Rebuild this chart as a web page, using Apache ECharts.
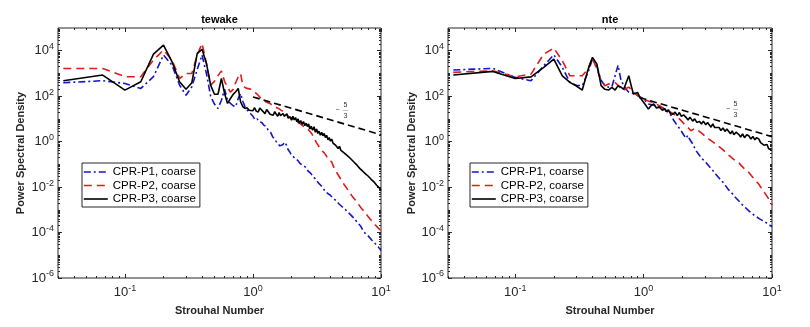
<!DOCTYPE html>
<html><head><meta charset="utf-8">
<script src="https://cdn.jsdelivr.net/npm/echarts@6/dist/echarts.min.js"></script>
<style>html,body{margin:0;padding:0;background:#fff}#c{width:810px;height:327px}</style>
</head><body><div id="c"></div>
<script>
// ---------- data ----------
const panelTitles = ['tewake', 'nte'];
const seriesNames = ['CPR-P1, coarse', 'CPR-P2, coarse', 'CPR-P3, coarse'];
const xAxisTitle = 'Strouhal Number';
const yAxisTitle = 'Power Spectral Density';
const xTickValues = [0.1, 1, 10];
const yTickValues = [1e-6, 1e-4, 1e-2, 1, 1e2, 1e4];
const slopeLabel = ['\u2212', '5', '3'];

const tewakeP1 = [[0.033,390],[0.067,480],[0.1,363],[0.133,219],[0.167,720],[0.2,6450],[0.233,2340],[0.267,308],[0.3,110],[0.333,260],[0.367,1500],[0.4,6450],[0.433,1000],[0.467,100],[0.5,45],[0.533,29],[0.567,66],[0.6,200],[0.633,70],[0.667,48],[0.7,38],[0.733,34],[0.767,80],[0.8,132],[0.833,60],[0.867,34],[0.9,25],[0.933,20],[0.967,16],[1.0,13],[1.04,9],[1.08,10],[1.12,7.5],[1.17,7],[1.22,5.2],[1.27,4.6],[1.32,3.0],[1.37,2.6],[1.42,1.7],[1.47,1.4],[1.52,1.0],[1.57,0.8],[1.62,0.65],[1.67,0.6],[1.72,0.75],[1.76,0.95],[1.79,1.0],[1.83,0.7],[1.88,0.45],[1.94,0.35],[2.0,0.25],[2.08,0.21],[2.16,0.17],[2.24,0.15],[2.33,0.11],[2.45,0.09],[2.57,0.076],[2.7,0.05],[2.83,0.04],[2.96,0.028],[3.1,0.022],[3.25,0.015],[3.4,0.0118],[3.55,0.0085],[3.7,0.006],[3.85,0.0052],[4.0,0.0045],[4.15,0.0036],[4.3,0.003],[4.5,0.0024],[4.7,0.0018],[4.95,0.0014],[5.2,0.0011],[5.5,0.0008],[5.8,0.0006],[6.27,0.00038],[6.6,0.00026],[6.9,0.0002],[7.2,0.00013],[7.5,0.000095],[8.0,0.000068],[8.5,0.000046],[9.0,0.000033],[9.5,0.000024],[10.0,0.000016]];
const tewakeP2 = [[0.033,1660],[0.067,1660],[0.1,720],[0.133,720],[0.167,3900],[0.2,10700],[0.233,3900],[0.267,600],[0.3,1000],[0.333,1000],[0.367,6450],[0.4,21000],[0.433,2770],[0.467,308],[0.5,450],[0.533,800],[0.567,1300],[0.6,450],[0.633,250],[0.667,150],[0.7,200],[0.733,400],[0.767,700],[0.8,1000],[0.833,300],[0.867,240],[0.9,220],[0.933,210],[0.967,195],[1.0,185],[1.05,140],[1.1,110],[1.15,80],[1.2,64],[1.24,57],[1.3,52],[1.36,48],[1.41,40],[1.46,38],[1.52,32],[1.58,29],[1.63,25],[1.68,23],[1.74,19],[1.79,17],[1.85,15],[1.9,13],[1.95,11.5],[2.0,10.4],[2.08,9],[2.15,8],[2.25,7],[2.34,6.2],[2.42,5.2],[2.5,4.6],[2.6,3.9],[2.73,3.2],[2.82,2.6],[2.9,2.1],[2.98,1.5],[3.05,1.2],[3.13,0.9],[3.2,0.8],[3.32,0.55],[3.44,0.41],[3.5,0.45],[3.6,0.32],[3.7,0.26],[3.8,0.2],[3.95,0.16],[4.12,0.127],[4.3,0.07],[4.5,0.045],[4.7,0.03],[4.93,0.0196],[5.15,0.013],[5.4,0.009],[5.65,0.006],[5.9,0.0043],[6.2,0.003],[6.5,0.0022],[6.8,0.0015],[7.08,0.0011],[7.35,0.0009],[7.6,0.0007],[7.9,0.00052],[8.2,0.0004],[8.6,0.0003],[9.0,0.00022],[9.5,0.00016],[10.0,0.00012]];
const tewakeP3 = [[0.033,480],[0.067,850],[0.1,185],[0.133,430],[0.167,7100],[0.2,17800],[0.233,3300],[0.267,430],[0.3,200],[0.333,390],[0.367,7700],[0.4,11500],[0.433,2770],[0.467,308],[0.5,122],[0.533,122],[0.567,600],[0.6,132],[0.633,48],[0.667,79],[0.7,120],[0.733,156],[0.767,219],[0.8,57],[0.833,35],[0.867,29],[0.9,31],[0.933,24],[0.967,28],[1.0,23],[1.03,31],[1.06,22],[1.1,20],[1.13,30],[1.17,36],[1.2,21],[1.24,17],[1.28,26],[1.32,23],[1.36,16],[1.4,19],[1.44,14.5],[1.48,21],[1.52,16],[1.56,13],[1.6,19],[1.64,14],[1.68,12.3],[1.72,17],[1.76,13],[1.8,15],[1.84,17],[1.88,11],[1.92,9.5],[1.96,12],[2.0,8.7],[2.05,13],[2.1,9],[2.15,11.5],[2.2,7.5],[2.25,10],[2.3,6.5],[2.36,8.5],[2.42,5.8],[2.48,7.6],[2.54,5.0],[2.6,6.5],[2.66,4.6],[2.72,6.0],[2.78,3.6],[2.85,4.8],[2.92,3.2],[3.0,4.5],[3.07,2.6],[3.14,3.6],[3.21,2.3],[3.28,2.9],[3.36,1.9],[3.44,2.6],[3.52,1.8],[3.6,2.3],[3.68,1.5],[3.76,1.9],[3.85,1.2],[3.94,1.5],[4.03,1.05],[4.12,1.3],[4.22,0.85],[4.32,1.0],[4.42,0.7],[4.52,0.8],[4.63,0.5],[4.74,0.62],[4.85,0.42],[4.97,0.5],[5.09,0.34],[5.22,0.4],[5.35,0.27],[5.48,0.31],[5.62,0.21],[5.76,0.24],[5.9,0.16],[6.05,0.17],[6.2,0.12],[6.36,0.13],[6.52,0.09],[6.68,0.095],[6.85,0.065],[7.02,0.07],[7.2,0.05],[7.38,0.052],[7.57,0.038],[7.76,0.04],[7.96,0.03],[8.16,0.031],[8.37,0.022],[8.58,0.024],[8.8,0.017],[9.02,0.018],[9.25,0.012],[9.48,0.013],[9.74,0.009],[10.0,0.0071]];
const tewakeSlope = [[1.0,93],[10.0,2.0]];

const nteP1 = [[0.033,1420],[0.067,1670],[0.1,670],[0.133,480],[0.167,2190],[0.2,6600],[0.233,1860],[0.267,405],[0.3,300],[0.333,290],[0.367,1000],[0.4,4300],[0.433,2000],[0.467,500],[0.5,290],[0.533,250],[0.567,260],[0.6,800],[0.633,2300],[0.667,500],[0.7,300],[0.733,200],[0.767,150],[0.8,140],[0.833,130],[0.867,124],[0.9,105],[0.933,95],[0.967,89],[1.0,75],[1.09,45],[1.17,42],[1.26,38],[1.36,32],[1.46,27],[1.55,20],[1.64,14],[1.72,8.5],[1.8,5.9],[1.88,4.2],[1.96,3.0],[2.05,2.0],[2.14,1.4],[2.21,1.9],[2.28,1.3],[2.41,0.8],[2.56,0.4],[2.72,0.25],[2.88,0.17],[3.06,0.12],[3.25,0.08],[3.45,0.055],[3.65,0.037],[3.9,0.024],[4.12,0.017],[4.36,0.0113],[4.6,0.0075],[4.9,0.0052],[5.2,0.0035],[5.5,0.0025],[5.85,0.0017],[6.2,0.00126],[6.6,0.0009],[7.0,0.00068],[7.4,0.00054],[8.0,0.0004],[8.6,0.00032],[9.3,0.00024],[10.0,0.00018]];
const nteP2 = [[0.033,1120],[0.067,1320],[0.1,710],[0.133,940],[0.167,7100],[0.2,13100],[0.233,3630],[0.267,790],[0.3,790],[0.333,790],[0.367,1500],[0.4,5000],[0.433,1500],[0.467,500],[0.5,290],[0.533,340],[0.567,370],[0.6,400],[0.633,300],[0.667,200],[0.7,180],[0.733,220],[0.767,250],[0.8,200],[0.833,160],[0.867,124],[0.9,110],[0.933,95],[0.967,85],[1.0,76],[1.05,66],[1.12,59],[1.19,52],[1.26,45],[1.36,35],[1.46,27],[1.57,22],[1.69,17.5],[1.8,13],[1.9,10],[2.02,7],[2.12,5.2],[2.23,4.0],[2.34,3.0],[2.42,3.4],[2.5,3.8],[2.58,3.6],[2.7,2.9],[2.85,2.3],[3.06,1.6],[3.25,1.25],[3.44,1.0],[3.62,0.8],[3.8,0.65],[4.1,0.47],[4.3,0.36],[4.5,0.28],[4.75,0.22],[5.0,0.17],[5.25,0.14],[5.5,0.12],[5.75,0.09],[6.0,0.07],[6.3,0.055],[6.6,0.044],[6.9,0.032],[7.2,0.024],[7.55,0.018],[7.9,0.0134],[8.15,0.01],[8.4,0.008],[8.65,0.0062],[8.9,0.0049],[9.2,0.0037],[9.5,0.0028],[9.75,0.0021],[10.0,0.0016]];
const nteP3 = [[0.033,850],[0.067,1230],[0.1,600],[0.133,710],[0.167,1850],[0.2,4300],[0.233,790],[0.267,405],[0.3,280],[0.333,186],[0.367,1320],[0.4,5100],[0.433,2580],[0.467,290],[0.5,200],[0.533,186],[0.567,245],[0.6,186],[0.633,290],[0.667,250],[0.7,200],[0.733,400],[0.767,790],[0.8,300],[0.833,124],[0.867,135],[0.9,145],[0.933,90],[0.967,70],[1.0,63],[1.04,40],[1.09,27],[1.14,38],[1.2,45],[1.26,30],[1.33,33],[1.4,24],[1.46,28],[1.5,21],[1.56,25],[1.62,17],[1.69,16],[1.76,20],[1.83,14],[1.9,19],[1.97,13],[2.05,15],[2.14,11.7],[2.22,9],[2.3,12],[2.41,8],[2.5,10],[2.6,7],[2.72,7.8],[2.82,6],[2.92,8],[3.05,5.5],[3.15,7],[3.24,5.9],[3.35,4.3],[3.46,6],[3.57,4.2],[3.7,5.0],[3.87,4.2],[4.0,3.1],[4.15,4.0],[4.3,2.8],[4.45,3.6],[4.6,3.0],[4.75,2.2],[4.9,3.0],[5.05,2.0],[5.25,2.6],[5.5,2.1],[5.7,1.6],[5.9,2.2],[6.1,1.5],[6.35,2.0],[6.6,1.8],[6.85,1.3],[7.1,1.7],[7.35,1.2],[7.6,1.5],[7.9,1.3],[8.15,0.9],[8.4,1.0],[8.65,0.7],[8.9,0.65],[9.15,0.75],[9.4,0.5],[9.7,0.55],[10.0,0.4]];
const nteSlope = [[0.93,87],[10.0,1.66]];

// ---------- styling ----------
const FONT = 'Liberation Sans';
const AX = '#262626';
const colors = ['#1414c8', '#e01b1b', '#000000'];
const dashes = [[7, 3, 2, 3], [8, 5], 'solid'];
const xMin = 0.03, xMax = 10, yMin = 1e-6, yMax = 1e5;

// minor tick positions (decoration)
const xMinor = [];
for (let e = -2; e <= 0; e++) for (let k = 2; k <= 9; k++) { const v = +(k * Math.pow(10, e)).toPrecision(6); if (v >= xMin && v <= xMax) xMinor.push(v); }
const yMinor = [];
for (let e = -6; e <= 4; e++) { if (e % 2 !== 0) yMinor.push(Math.pow(10, e)); for (let k = 2; k <= 9; k++) yMinor.push(+(k * Math.pow(10, e)).toPrecision(6)); }

function powLabel(v) { const e = Math.round(Math.log10(v)); return '{b|10}{s|' + e + '}'; }
const rich = {
  b: { fontSize: 13, fontFamily: FONT, color: AX },
  s: { fontSize: 9, fontFamily: FONT, color: AX, padding: [0, 0, 8, 0] }
};

const grids = [
  { left: 58, top: 28, width: 323, height: 250 },
  { left: 448, top: 28, width: 324, height: 250 }
];
const panels = [
  { data: [tewakeP1, tewakeP2, tewakeP3], slope: tewakeSlope },
  { data: [nteP1, nteP2, nteP3], slope: nteSlope }
];

const xAxis = [], yAxis = [], series = [], legend = [];
grids.forEach((g, gi) => {
  const xb = { type: 'log', logBase: 10, gridIndex: gi, min: xMin, max: xMax, splitLine: { show: false }, axisLine: { show: false } };
  const yb = { type: 'log', logBase: 10, gridIndex: gi, min: yMin, max: yMax, splitLine: { show: false }, axisLine: { show: false } };
  const major = { show: true, inside: true, length: 4, customValues: null, lineStyle: { color: AX, width: 1 } };
  const minor = { show: true, inside: true, length: 2, customValues: null, lineStyle: { color: AX, width: 1 } };
  const xi = xAxis.length, yi = yAxis.length;
  xAxis.push(Object.assign({}, xb, {
    position: 'bottom',
    axisTick: Object.assign({}, major, { customValues: xTickValues }),
    axisLabel: { customValues: xTickValues, formatter: powLabel, rich: rich, margin: 6 },
    name: xAxisTitle, nameLocation: 'middle', nameGap: 27,
    nameTextStyle: { fontSize: 11, fontWeight: 'bold', fontFamily: FONT, color: AX }
  }));
  xAxis.push(Object.assign({}, xb, { position: 'bottom', axisTick: Object.assign({}, minor, { customValues: xMinor }), axisLabel: { show: false } }));
  xAxis.push(Object.assign({}, xb, { position: 'top', axisTick: Object.assign({}, major, { customValues: xTickValues }), axisLabel: { show: false } }));
  xAxis.push(Object.assign({}, xb, { position: 'top', axisTick: Object.assign({}, minor, { customValues: xMinor }), axisLabel: { show: false } }));
  yAxis.push(Object.assign({}, yb, {
    position: 'left',
    axisTick: Object.assign({}, major, { customValues: yTickValues }),
    axisLabel: { customValues: yTickValues, formatter: powLabel, rich: rich, margin: 4 },
    name: yAxisTitle, nameLocation: 'middle', nameGap: gi === 0 ? 32 : 30,
    nameTextStyle: { fontSize: 11, fontWeight: 'bold', fontFamily: FONT, color: AX }
  }));
  yAxis.push(Object.assign({}, yb, { position: 'left', axisTick: Object.assign({}, minor, { customValues: yMinor }), axisLabel: { show: false } }));
  yAxis.push(Object.assign({}, yb, { position: 'right', axisTick: Object.assign({}, major, { customValues: yTickValues }), axisLabel: { show: false } }));
  yAxis.push(Object.assign({}, yb, { position: 'right', axisTick: Object.assign({}, minor, { customValues: yMinor }), axisLabel: { show: false } }));

  panels[gi].data.forEach((d, si) => {
    series.push({
      type: 'line', name: seriesNames[si], data: d, xAxisIndex: xi, yAxisIndex: yi,
      symbol: 'none', showSymbol: false, animation: false,
      lineStyle: { color: colors[si], width: 1.6, type: dashes[si] },
      itemStyle: { color: colors[si] }
    });
  });
  series.push({
    type: 'line', name: 'slope', data: panels[gi].slope, xAxisIndex: xi, yAxisIndex: yi,
    symbol: 'none', showSymbol: false, animation: false, silent: true,
    lineStyle: { color: '#000', width: 1.6, type: [7, 4] }
  });
  legend.push({
    data: seriesNames, orient: 'vertical', left: gi === 0 ? 82 : 470, top: 163,
    itemWidth: 24, itemHeight: 12, itemGap: 1.5, padding: [3, 4, 2, 1],
    borderColor: AX, borderWidth: 1, backgroundColor: '#fff',
    itemStyle: { opacity: 0, borderWidth: 0 },
    lineStyle: { width: 1.6 },
    textStyle: { fontSize: 11.5, fontFamily: FONT, color: '#000' },
    selectedMode: false
  });
});

const grid = grids.map(g => Object.assign({ show: true, borderColor: AX, borderWidth: 1, backgroundColor: 'transparent' }, g));

const graphic = [];
panelTitles.forEach((t, i) => {
  const g = grids[i];
  graphic.push({ type: 'text', x: g.left + g.width / 2, y: 20,
    style: { text: t, font: 'bold 11px ' + FONT, fill: '#000', textAlign: 'center', textVerticalAlign: 'middle' } });
});
const slopePos = [{ mx: 337.5, fx: 345.5, y: 110.5 }, { mx: 728, fx: 735.5, y: 109.5 }];
slopePos.forEach(p => {
  graphic.push({ type: 'text', x: p.mx, y: p.y, style: { text: slopeLabel[0], font: '7px ' + FONT, fill: '#333', textAlign: 'center', textVerticalAlign: 'middle' } });
  graphic.push({ type: 'text', x: p.fx, y: p.y - 5.5, style: { text: slopeLabel[1], font: '7px ' + FONT, fill: '#333', textAlign: 'center', textVerticalAlign: 'middle' } });
  graphic.push({ type: 'line', shape: { x1: p.fx - 2.5, y1: p.y, x2: p.fx + 2.5, y2: p.y }, style: { stroke: '#999', lineWidth: 0.6 } });
  graphic.push({ type: 'text', x: p.fx, y: p.y + 5.5, style: { text: slopeLabel[2], font: '7px ' + FONT, fill: '#333', textAlign: 'center', textVerticalAlign: 'middle' } });
});

const chart = echarts.init(document.getElementById('c'), null, { renderer: 'canvas' });
chart.setOption({
  animation: false,
  backgroundColor: '#fff',
  grid, xAxis, yAxis, series, legend, graphic
});
</script></body></html>
